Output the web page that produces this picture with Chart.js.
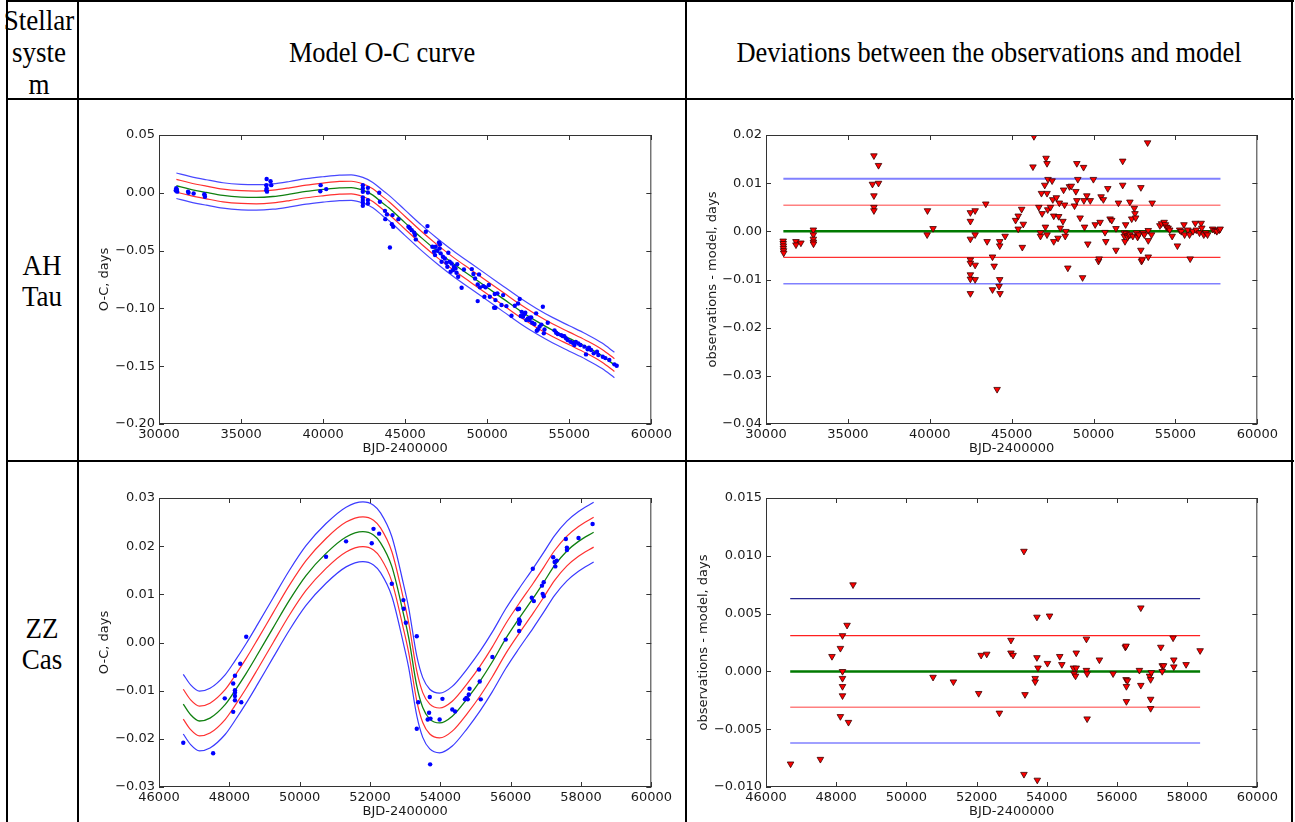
<!DOCTYPE html>
<html>
<head>
<meta charset="utf-8">
<script src="https://cdn.jsdelivr.net/npm/chart.js@4.4.1/dist/chart.umd.min.js"></script>
<style>
  html, body { margin: 0; padding: 0; background: #fff; }
  body { width: 1295px; height: 822px; position: relative; overflow: hidden; }
  .hl, .vl { position: absolute; background: #000; }
  .txt {
    position: absolute; text-align: center; color: #000;
    font-family: "Liberation Serif", "Times New Roman", serif; font-size: 30px;
    transform: scaleX(0.88); transform-origin: center top; white-space: nowrap;
  }
  .side { transform: scaleX(0.9); }
  canvas { position: absolute; }
</style>
</head>
<body>
<!-- table lines -->
<div class="hl" style="left:6px; top:0; width:1288px; height:2px"></div>
<div class="hl" style="left:6px; top:98px; width:1288px; height:2px"></div>
<div class="hl" style="left:6px; top:460px; width:1288px; height:2px"></div>
<div class="vl" style="left:6px; top:0; width:2px; height:822px"></div>
<div class="vl" style="left:77px; top:0; width:2px; height:822px"></div>
<div class="vl" style="left:685px; top:0; width:2px; height:822px"></div>
<div class="vl" style="left:1291px; top:0; width:2px; height:822px"></div>

<div class="txt side" style="left:-1px; width:80px; top:4px; line-height:32px">Stellar<br>syste<br>m</div>
<div class="txt" style="left:79px; width:606px; top:36px; line-height:32px">Model O-C curve</div>
<div class="txt" style="left:687px; width:604px; top:36px; line-height:32px">Deviations between the observations and model</div>
<div class="txt side" style="left:2px; width:80px; top:249px; line-height:31px">AH<br>Tau</div>
<div class="txt side" style="left:2px; width:80px; top:612px; line-height:31px">ZZ<br>Cas</div>

<canvas id="ahOc"></canvas>
<canvas id="ahRes"></canvas>
<canvas id="zzOc"></canvas>
<canvas id="zzRes"></canvas>

<script>
// ---------- AH Tau ----------
const ahXTicks = [30000, 35000, 40000, 45000, 50000, 55000, 60000];
const ahXLabels = ["30000", "35000", "40000", "45000", "50000", "55000", "60000"];
const ahOcYTicks = [-0.20, -0.15, -0.10, -0.05, 0.00, 0.05];
const ahOcYLabels = ["\u22120.20", "\u22120.15", "\u22120.10", "\u22120.05", "0.00", "0.05"];
const ahResYTicks = [-0.04, -0.03, -0.02, -0.01, 0.00, 0.01, 0.02];
const ahResYLabels = ["\u22120.04", "\u22120.03", "\u22120.02", "\u22120.01", "0.00", "0.01", "0.02"];

// model O-C curve (green)
const ahModel = [[31060,0.0061],[31870,0.0032],[32880,0.0003],[33900,-0.0023],[35010,-0.0037],[35930,-0.0040],
  [36940,-0.0032],[37960,-0.0012],[38970,0.0012],[39990,0.0029],[41000,0.0043],[41710,0.0045],[42420,0.0023],
  [43030,-0.0020],[43640,-0.0090],[44000,-0.0130],[45000,-0.0260],[46000,-0.0390],[47000,-0.0510],[48000,-0.0620],
  [49000,-0.0720],[50000,-0.0820],[51000,-0.0920],[52000,-0.1020],[53000,-0.1110],[54000,-0.1190],[55000,-0.1260],
  [56000,-0.1330],[57000,-0.1410],[57750,-0.1490]];
const ahBand = [0.0055, 0.011];   // offsets of red and blue curves

// observed O-C (blue dots)
const ahObs = [[31020,0.002],[31050,0.004],[31080,0.003],[31110,0.001],[31770,0.001],[31800,0.0],[32110,-0.0006],
  [32780,-0.002],[32800,-0.0035],[32760,-0.0012],[36560,0.012],[36540,0.0066],[36560,0.0037],[36580,0.001],
  [36540,0.0023],[36800,0.010],[36840,0.0066],[39850,0.0066],[39830,0.0014],[40190,0.0032],[42420,0.0066],
  [42420,0.0037],[42420,0.0009],[42420,-0.004],[42420,-0.0063],[42420,-0.0086],[42420,-0.0112],[42730,0.0043],
  [42730,0.0003],[42730,-0.0063],[42730,-0.0092],[43420,0.0],[43460,-0.0078],[43770,-0.0156],[43790,-0.0228],
  [43890,-0.0187],[44070,-0.0473],[44230,-0.0193],[44190,-0.0271],[44270,-0.0294],[44590,-0.0228],[45200,-0.0294],
  [45280,-0.0305],[45400,-0.0323],[45550,-0.0346],[45600,-0.0366],[45650,-0.0403],[46260,-0.0337],[46360,-0.0288],
  [46660,-0.0467],[46760,-0.051],[46820,-0.0539],[46860,-0.0467],[46960,-0.0501],[47060,-0.0429],[47120,-0.0444],
  [47100,-0.0481],[47160,-0.0524],[47220,-0.0597],[47300,-0.0553],[47420,-0.0568],[47510,-0.0605],[47570,-0.064],
  [47630,-0.0519],[47710,-0.0597],[47770,-0.0683],[47830,-0.0611],[47910,-0.0669],[47970,-0.064],[48070,-0.0654],
  [48130,-0.0692],[48170,-0.0617],[48230,-0.0726],[48440,-0.0821],[48580,-0.0663],[49060,-0.066],[49160,-0.0703],
  [49260,-0.0741],[49420,-0.0793],[49420,-0.0937],[49500,-0.0706],[49560,-0.0818],[49760,-0.0807],[49830,-0.0899],
  [49900,-0.0818],[50100,-0.0798],[50160,-0.0899],[50420,-0.0994],[50460,-0.0876],[50500,-0.0928],[50500,-0.0994],
  [50620,-0.087],[50870,-0.0971],[50970,-0.0885],[51170,-0.098],[51480,-0.1063],[51680,-0.0977],[51880,-0.0957],
  [51980,-0.0919],[52040,-0.1066],[52100,-0.103],[52180,-0.1072],[52250,-0.105],[52320,-0.1037],[52380,-0.1101],
  [52480,-0.1086],[52580,-0.1101],[52600,-0.108],[52680,-0.1078],[52740,-0.1124],[52880,-0.1135],[52980,-0.1043],
  [53020,-0.1193],[53090,-0.1182],[53190,-0.1158],[53300,-0.114],[53390,-0.0986],[53450,-0.1216],[53490,-0.1182],
  [53690,-0.1124],[54100,-0.119],[54200,-0.121],[54300,-0.1222],[54500,-0.1231],[54600,-0.1239],[54700,-0.124],
  [54800,-0.1259],[54900,-0.1274],[55070,-0.1288],[55210,-0.1297],[55310,-0.1317],[55400,-0.129],[55550,-0.1303],
  [55680,-0.1317],[55920,-0.1331],[56020,-0.1398],[56120,-0.1354],[56200,-0.134],[56330,-0.136],[56490,-0.1389],
  [56690,-0.1375],[56770,-0.1403],[57040,-0.1418],[57200,-0.143],[57440,-0.1447],[57750,-0.1484],[57890,-0.1496]];

// residuals (red triangles)
const ahRes = [[31050,-0.0020],[31050,-0.0025],[31060,-0.0030],[31060,-0.0035],[31070,-0.0040],[31080,-0.0045],
  [31830,-0.0021],[31830,-0.0028],[32130,-0.0024],[32890,0.0003],[32890,-0.0007],[32890,-0.0016],[32890,-0.0022],
  [32900,-0.0026],[36590,0.0157],[36500,0.0098],[36590,0.0074],[36590,0.0050],[36590,0.0043],[36870,0.0137],
  [36870,0.0100],[39860,0.0043],[39840,-0.0007],[40200,0.0006],[42480,0.0039],[42480,0.0021],[42480,-0.0016],
  [42480,-0.0059],[42480,-0.0066],[42480,-0.0090],[42480,-0.0099],[42480,-0.0129],[42770,0.0043],[42770,-0.0007],
  [42770,-0.0070],[42770,-0.0100],[43420,0.0057],[43500,-0.0021],[43830,-0.0053],[43930,-0.0072],[43830,-0.0121],
  [44270,-0.0021],[44270,-0.0030],[44270,-0.0100],[44230,-0.0114],[44290,-0.0129],[44110,-0.0328],[44600,-0.0010],
  [45240,0.0023],[45400,0.0032],[45610,0.0046],[45400,0.0005],[45710,0.0015],[45650,-0.0033],[46360,0.0197],
  [46300,0.0134],[46760,-0.0003],[46760,-0.0010],[46820,0.0079],[46660,0.0050],[46860,0.0037],[47020,0.0096],
  [47100,0.0152],[47160,0.0141],[47220,0.0108],[47160,0.0079],[47200,0.0045],[47160,-0.0007],[47060,0.0009],
  [47370,0.0050],[47470,0.0105],[47510,0.0066],[47570,0.0032],[47570,-0.0021],[47730,0.0070],[47870,0.0031],
  [47830,-0.0014],[47970,0.0007],[47910,0.0059],[48130,0.0021],[48170,0.0086],[48230,0.0055],[48310,0.0000],
  [48270,-0.0010],[48430,-0.0076],[48530,0.0093],[48640,0.0094],[48840,0.0053],[48920,0.0083],[48980,0.0064],
  [48980,0.0141],[49040,0.0108],[49180,0.0028],[49330,-0.0096],[49390,0.0133],[49410,0.0064],[49450,0.0009],
  [49590,0.0074],[49650,-0.0026],[49800,0.0064],[49990,0.0108],[50100,0.0014],[50300,-0.0062],[50340,-0.0057],
  [50400,0.0019],[50460,0.0072],[50600,0.0066],[50700,-0.0002],[50750,-0.0021],[50870,0.0089],[51010,0.0026],
  [51110,0.0023],[51370,-0.0039],[51370,0.0006],[51520,0.0059],[51780,0.0146],[51780,0.0096],[51880,-0.0003],
  [51880,-0.0010],[51920,-0.0021],[51960,0.0014],[52000,-0.0004],[52080,-0.0012],[52150,-0.0008],[52220,0.0061],
  [52220,-0.0007],[52330,0.0026],[52400,-0.0010],[52490,0.0048],[52530,0.0037],[52570,0.0028],[52630,-0.0003],
  [52690,-0.0012],[52760,-0.0007],[52890,0.0091],[52890,-0.0039],[52930,-0.0062],[52970,-0.0059],[53030,-0.0003],
  [53100,-0.0007],[53300,0.0184],[53340,0.0002],[53340,-0.0019],[53340,-0.0053],[53580,0.0059],[53540,-0.0007],
  [54050,0.0012],[54150,0.0016],[54310,0.0019],[54390,0.0014],[54450,0.0009],[54550,0.0007],[54650,0.0003],
  [54800,-0.0010],[55120,-0.0030],[55260,0.0003],[55360,0.0000],[55520,0.0014],[55560,-0.0007],[55760,0.0003],
  [55860,-0.0007],[55900,-0.0057],[56070,0.0000],[56210,0.0017],[56270,0.0003],[56470,-0.0003],[56570,0.0017],
  [56610,0.0007],[56730,-0.0007],[56860,-0.0003],[56960,-0.0007],[57270,0.0005],[57410,0.0002],[57530,0.0000],
  [57670,0.0003],[57730,0.0005]];
const ahResLevels = [0.0109, 0.0054, 0, -0.0054, -0.0109];
const ahResSpan = [31060, 57750];

// ---------- ZZ Cas ----------
const zzXTicks = [46000, 48000, 50000, 52000, 54000, 56000, 58000, 60000];
const zzXLabels = ["46000", "48000", "50000", "52000", "54000", "56000", "58000", "60000"];
const zzOcYTicks = [-0.03, -0.02, -0.01, 0.00, 0.01, 0.02, 0.03];
const zzOcYLabels = ["\u22120.03", "\u22120.02", "\u22120.01", "0.00", "0.01", "0.02", "0.03"];
const zzResYTicks = [-0.010, -0.005, 0.000, 0.005, 0.010, 0.015];
const zzResYLabels = ["\u22120.010", "\u22120.005", "0.000", "0.005", "0.010", "0.015"];

const zzModel = [[46690,-0.0128],[46900,-0.0150],[47150,-0.0163],[47450,-0.0157],[47880,-0.0129],[48160,-0.0100],
  [48480,-0.0064],[48800,-0.0025],[49240,0.0030],[49710,0.0088],[50180,0.0139],[50750,0.0185],[51320,0.0219],
  [51800,0.0230],[52100,0.0223],[52300,0.0207],[52620,0.0158],[52950,0.0060],[53100,0.0010],[53330,-0.0090],
  [53500,-0.0135],[53700,-0.0159],[53980,-0.0167],[54340,-0.0153],[54780,-0.0115],[55130,-0.0080],[55480,-0.0040],
  [55860,0.0008],[56240,0.0050],[56640,0.0092],[56940,0.0125],[57250,0.0160],[57600,0.0190],[57930,0.0210],
  [58360,0.0229]];
const zzBand = [0.0031, 0.0062];

const zzObs = [[46690,-0.0208],[47540,-0.0230],[47870,-0.0116],[48110,-0.0085],[48110,-0.0144],[48160,-0.0069],
  [48160,-0.0099],[48160,-0.0104],[48160,-0.0111],[48160,-0.0120],[48310,-0.0044],[48340,-0.0124],[48480,0.0012],
  [50750,0.0178],[51320,0.0210],[52050,0.0206],[52100,0.0236],[52260,0.0226],[52620,0.0122],[52950,0.0088],
  [52960,0.0070],[53020,0.0041],[53330,0.0013],[53370,-0.0124],[53330,-0.0179],[53700,-0.0113],[53680,-0.0146],
  [53640,-0.0160],[53720,-0.0158],[53710,-0.0253],[53980,-0.0160],[54060,-0.0117],[54340,-0.0139],[54420,-0.0143],
  [54700,-0.0118],[54740,-0.0115],[54780,-0.0118],[54810,-0.0108],[54830,-0.0096],[55100,-0.0056],[55120,-0.0081],
  [55150,-0.0118],[55480,-0.0030],[55860,0.0006],[56200,0.0069],[56240,0.0070],[56240,0.0048],[56240,0.0039],
  [56240,0.0024],[56260,0.0044],[56600,0.0093],[56630,0.0153],[56660,0.0086],[56890,0.0118],[56910,0.0101],
  [56940,0.0125],[56940,0.0096],[57210,0.0177],[57250,0.0167],[57270,0.0158],[57310,0.0170],[57570,0.0215],
  [57600,0.0197],[57600,0.0192],[57930,0.0217],[58330,0.0246]];

const zzRes = [[46700,-0.0080],[47550,-0.0076],[47880,0.0013],[48120,0.0020],[48180,0.0031],[48310,0.0040],
  [48480,0.0075],[48180,0.0000],[48180,-0.0006],[48180,-0.0013],[48180,-0.0021],[48120,-0.0039],[48350,-0.0044],
  [50760,-0.0005],[51340,-0.0009],[52060,-0.0019],[52130,0.0014],[52290,0.0015],[52650,-0.0036],[52980,0.0027],
  [52980,0.0016],[53040,0.0014],[53350,0.0104],[53350,-0.0089],[53380,-0.0020],[53670,-0.0006],[53670,-0.0009],
  [53720,0.0047],[53720,0.0012],[53730,-0.0094],[53750,0.0003],[54020,0.0007],[54080,0.0048],[54370,0.0013],
  [54430,0.0006],[54760,0.0003],[54780,-0.0002],[54820,-0.0004],[54840,0.0016],[54840,0.0003],[55130,0.0028],
  [55130,0.0001],[55150,-0.0002],[55150,-0.0041],[55500,0.0010],[55890,-0.0002],[56240,0.0021],[56260,0.0022],
  [56260,-0.0007],[56270,-0.0013],[56270,-0.0026],[56300,-0.0008],[56640,0.0001],[56680,0.0055],[56680,-0.0012],
  [56930,-0.0004],[56960,-0.0007],[56960,-0.0024],[56960,-0.0032],[56980,-0.0001],[57250,0.0021],[57290,0.0000],
  [57290,0.0005],[57330,0.0005],[57600,0.0029],[57620,0.0010],[57620,0.0004],[57970,0.0006],[58370,0.0018]];
const zzResLevels = [0.0063, 0.0031, 0, -0.0031, -0.0062];
const zzResSpan = [46690, 58370];

// ---------- drawing ----------
const tickFont = { family: "DejaVu Sans", size: 13 };
const textColor = "#1a1a1a";
const Y_AXIS_W = 75, X_AXIS_H = 36, PAD_TOP = 12, PAD_RIGHT = 22;

// matplotlib-like frame with inward ticks on all four sides
const framePlugin = {
    id: "frame",
    afterDraw(chart) {
        const { ctx, chartArea: a, scales: { x, y } } = chart;
        ctx.save();
        ctx.strokeStyle = "#333";
        ctx.lineWidth = 1;
        ctx.strokeRect(a.left + 0.5, a.top + 0.5, a.right - a.left - 1, a.bottom - a.top - 1);
        ctx.beginPath();
        x.ticks.forEach(t => {
            const px = Math.round(x.getPixelForValue(t.value)) + 0.5;
            ctx.moveTo(px, a.bottom); ctx.lineTo(px, a.bottom - 5);
            ctx.moveTo(px, a.top); ctx.lineTo(px, a.top + 5);
        });
        y.ticks.forEach(t => {
            const py = Math.round(y.getPixelForValue(t.value)) + 0.5;
            ctx.moveTo(a.left, py); ctx.lineTo(a.left + 5, py);
            ctx.moveTo(a.right, py); ctx.lineTo(a.right - 5, py);
        });
        ctx.stroke();
        ctx.restore();
    }
};

const pts = arr => arr.map(([x, y]) => ({ x, y }));
const shifted = (arr, d) => arr.map(([x, y]) => ({ x, y: y + d }));

function curve(data, color, width) {
    return { data, showLine: true, borderColor: color, borderWidth: width, pointRadius: 0,
             cubicInterpolationMode: "monotone", fill: false };
}
function hline(span, level, color, width) {
    return { data: [{ x: span[0], y: level }, { x: span[1], y: level }], showLine: true,
             borderColor: color, borderWidth: width, pointRadius: 0, fill: false };
}

function makeChart(id, plot, xTicks, xLabels, yTicks, yLabels, yTitle, yTitleGap, datasets) {
    const canvas = document.getElementById(id);
    const left = plot.l - Y_AXIS_W, top = plot.t - PAD_TOP;
    canvas.width = plot.r + PAD_RIGHT - left;
    canvas.height = plot.b + X_AXIS_H - top;
    canvas.style.left = left + "px";
    canvas.style.top = top + "px";
    return new Chart(canvas.getContext("2d"), {
        type: "scatter",
        data: { datasets },
        options: {
            responsive: false, animation: false, events: [],
            layout: { padding: { top: PAD_TOP, right: PAD_RIGHT, left: 0, bottom: 0 } },
            plugins: { legend: { display: false }, tooltip: { enabled: false } },
            scales: {
                x: {
                    type: "linear", min: xTicks[0], max: xTicks[xTicks.length - 1],
                    afterBuildTicks: s => { s.ticks = xTicks.map(v => ({ value: v })); },
                    afterFit: s => { s.height = X_AXIS_H; },
                    grid: { display: false, drawTicks: false }, border: { display: false },
                    ticks: { padding: 3, font: tickFont, color: textColor, maxRotation: 0, autoSkip: false,
                             callback: (v, i) => xLabels[i] },
                    title: { display: true, text: "BJD-2400000", font: tickFont, color: textColor,
                             padding: { top: 0, bottom: 4 } }
                },
                y: {
                    type: "linear", min: yTicks[0], max: yTicks[yTicks.length - 1],
                    afterBuildTicks: s => { s.ticks = yTicks.map(v => ({ value: v })); },
                    afterFit: s => { s.width = Y_AXIS_W; },
                    grid: { display: false, drawTicks: false }, border: { display: false },
                    ticks: { padding: 4, font: tickFont, color: textColor, autoSkip: false,
                             callback: (v, i) => yLabels[i] },
                    title: { display: true, text: yTitle, font: tickFont, color: textColor,
                             padding: { top: Y_AXIS_W - yTitleGap - 7.8, bottom: 0 } }
                }
            }
        },
        plugins: [framePlugin]
    });
}

const dots = (arr) => ({ data: pts(arr), pointRadius: 2.2, pointBackgroundColor: "#0000ff",
                         pointBorderWidth: 0, showLine: false });
const tris = (arr) => ({ data: pts(arr), pointStyle: "triangle", rotation: 180, pointRadius: 3.8,
                         pointBackgroundColor: "#ff0000", pointBorderColor: "#3a0000", pointBorderWidth: 0.8,
                         showLine: false });

// AH Tau O-C
makeChart("ahOc", { l: 159, t: 135, r: 653, b: 424 }, ahXTicks, ahXLabels, ahOcYTicks, ahOcYLabels,
    "O-C, days", 54, [
        dots(ahObs),
        curve(pts(ahModel), "#108010", 1.3),
        curve(shifted(ahModel, ahBand[0]), "#ff3030", 1.2),
        curve(shifted(ahModel, -ahBand[0]), "#ff3030", 1.2),
        curve(shifted(ahModel, ahBand[1]), "#4848ff", 1.2),
        curve(shifted(ahModel, -ahBand[1]), "#4848ff", 1.2)
    ]);

// AH Tau residuals
makeChart("ahRes", { l: 766, t: 135, r: 1259, b: 424 }, ahXTicks, ahXLabels, ahResYTicks, ahResYLabels,
    "observations - model, days", 53, [
        tris(ahRes),
        hline(ahResSpan, ahResLevels[2], "#007a00", 2.5),
        hline(ahResSpan, ahResLevels[0], "#8080ff", 2),
        hline(ahResSpan, ahResLevels[1], "#ff8080", 1.5),
        hline(ahResSpan, ahResLevels[3], "#ff3030", 1.3),
        hline(ahResSpan, ahResLevels[4], "#8080ff", 1.5)
    ]);

// ZZ Cas O-C
makeChart("zzOc", { l: 159, t: 498, r: 653, b: 787 }, zzXTicks, zzXLabels, zzOcYTicks, zzOcYLabels,
    "O-C, days", 54, [
        dots(zzObs),
        curve(pts(zzModel), "#108010", 1.3),
        curve(shifted(zzModel, zzBand[0]), "#ff3030", 1.2),
        curve(shifted(zzModel, -zzBand[0]), "#ff3030", 1.2),
        curve(shifted(zzModel, zzBand[1]), "#3a3aff", 1.2),
        curve(shifted(zzModel, -zzBand[1]), "#3a3aff", 1.2)
    ]);

// ZZ Cas residuals
makeChart("zzRes", { l: 766, t: 498, r: 1259, b: 787 }, zzXTicks, zzXLabels, zzResYTicks, zzResYLabels,
    "observations - model, days", 62, [
        tris(zzRes),
        hline(zzResSpan, zzResLevels[2], "#007a00", 2.5),
        hline(zzResSpan, zzResLevels[0], "#262690", 1.2),
        hline(zzResSpan, zzResLevels[1], "#ff2020", 1.3),
        hline(zzResSpan, zzResLevels[3], "#ff8080", 1.5),
        hline(zzResSpan, zzResLevels[4], "#8080ff", 1.5)
    ]);
</script>
</body>
</html>
